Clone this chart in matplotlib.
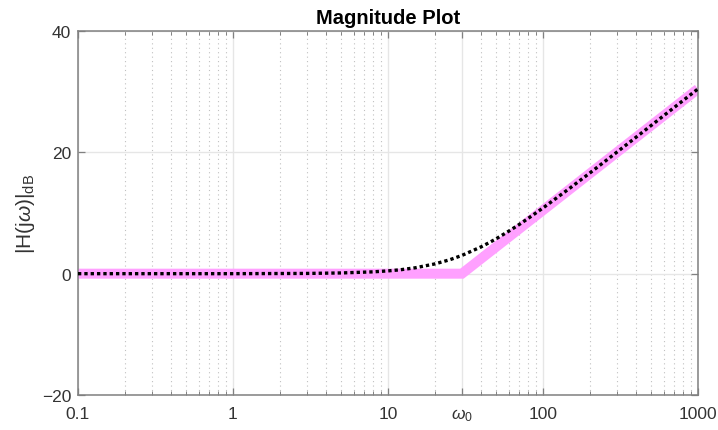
import numpy as np
import matplotlib
matplotlib.use('Agg')
import matplotlib.pyplot as plt
from matplotlib.ticker import LogLocator, NullFormatter, FixedLocator

plt.rcParams['font.family'] = ['Liberation Sans', 'DejaVu Sans']
plt.rcParams['mathtext.fontset'] = 'custom'
plt.rcParams['mathtext.rm'] = 'Liberation Sans'
plt.rcParams['mathtext.it'] = 'Liberation Sans:italic'

# asymptote (straight-line approximation)
w_asym = [0.1, 30, 1000]
db_asym = [0, 0, 30.46]

# exact magnitude
w_exact = [0.1, 1, 3, 5, 8, 10, 12, 15, 20, 25, 30, 35, 40, 45, 50, 60, 70,
           80, 100, 150, 200, 300, 500, 700, 1000]
db_exact = [0, 0, 0.04, 0.12, 0.3, 0.46, 0.64, 0.97, 1.6, 2.29, 3.01, 3.77,
            4.44, 5.12, 5.77, 6.99, 8.08, 9.09, 10.83, 14.15, 16.57, 20.04,
            24.45, 27.37, 30.46]

xticks = [0.1, 1, 10, 30, 100, 1000]
xtick_labels = ['0.1', '1', '10', r'$\omega_0$', '100', '1000']
yticks = [-20, 0, 20, 40]

axcol = '#808080'
fig = plt.figure(figsize=(7.18, 4.31), dpi=100)
ax = fig.add_axes([0.1086, 0.0812, 0.8635, 0.8445])

ax.plot(w_asym, db_asym, color='#ffa0ff', lw=7.2,
        solid_joinstyle='miter', solid_capstyle='butt', zorder=2)
ax.plot(w_exact, db_exact, color='black', lw=2.4, ls=(0, (1, 0.9)),
        dash_capstyle='butt', zorder=3)

ax.set_xscale('log')
ax.set_xlim(0.1, 1000)
ax.set_ylim(-20, 40)
ax.xaxis.set_major_locator(FixedLocator(xticks))
ax.set_xticklabels(xtick_labels)
ax.xaxis.set_minor_locator(LogLocator(base=10, subs=np.arange(2, 10)))
ax.xaxis.set_minor_formatter(NullFormatter())
ax.set_yticks(yticks)

ax.grid(True, which='major', color='#e6e6e6', lw=1.0, ls='-', zorder=0)
ax.grid(True, which='minor', axis='x', color='#c0c0c0', lw=0.8,
        ls=(0, (1, 3)), zorder=0)
ax.set_axisbelow(True)

ax.tick_params(which='both', direction='in', top=True, right=True,
               colors=axcol, labelsize=12.5, labelcolor='#333333')
ax.tick_params(which='major', length=5, width=0.9)
ax.tick_params(which='minor', length=3, width=0.7)
ax.tick_params(axis='x', pad=8)
ax.tick_params(axis='y', pad=5)
for s in ax.spines.values():
    s.set_color(axcol)
    s.set_linewidth(1.1)

ax.set_title('Magnitude Plot', fontsize=14.5, fontweight='bold', color='black', pad=6)
ax.set_ylabel(r'|H(j$\omega$)|$_{\mathrm{dB}}$', fontsize=15, color='#333333',
              labelpad=3)

fig.savefig('out.png', dpi=100)
